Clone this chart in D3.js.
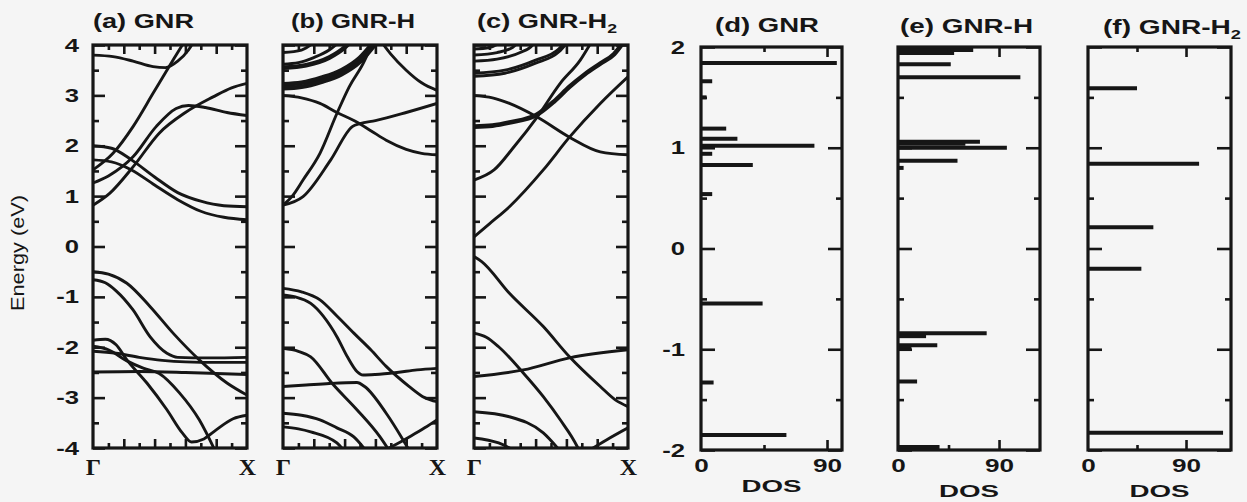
<!DOCTYPE html>
<html><head><meta charset="utf-8">
<script src="https://cdn.jsdelivr.net/npm/d3@7"></script>
<style>body{margin:0;background:#f5f5f5;} svg{display:block;}</style>
</head><body><svg id="c" width="1247" height="502"></svg>
<script>
// ---------------- DATA ----------------
const bandYTicks = [-4,-3,-2,-1,0,1,2,3,4];
const bandYMinor = [-3.5,-2.5,-1.5,-0.5,0.5,1.5,2.5,3.5];
const kMajor = [0.2,0.4,0.6,0.8];
const kMinor = [0.1,0.3,0.5,0.7,0.9];
const kLabels = ["\u0393","X"];
const dosYTicks = [-2,-1,0,1,2];
const dosYMinor = [-1.5,-0.5,0.5,1.5];
const dosXTicks = [0,90];
const dosXMinor = [45];
const dosMax = [100.7, 126.5, 131.3];
const titles = ["(a) GNR","(b) GNR-H","(c) GNR-H","(d) GNR","(e) GNR-H","(f) GNR-H"];
const titleSubs = ["","","2","","","2"];

// band structures: each band = list of [k, E(eV)]
const bandsA = [
 [[0,3.8],[0.13,3.77],[0.26,3.68],[0.39,3.57],[0.47,3.55],[0.55,3.68],[0.62,3.9],[0.66,4.1]],
 [[0,1.52],[0.13,1.85],[0.26,2.38],[0.39,3.04],[0.48,3.5],[0.55,3.85],[0.6,4.1]],
 [[0,1.26],[0.1,1.4],[0.26,1.78],[0.41,2.38],[0.54,2.74],[0.62,2.8],[0.73,2.76],[0.87,2.66],[1,2.6]],
 [[0,0.82],[0.11,1.06],[0.26,1.58],[0.43,2.25],[0.6,2.66],[0.78,2.97],[0.9,3.15],[1,3.24]],
 [[0,2.0],[0.12,1.95],[0.25,1.72],[0.4,1.38],[0.55,1.07],[0.7,0.9],[0.85,0.81],[1,0.79]],
 [[0,1.72],[0.12,1.68],[0.25,1.52],[0.4,1.22],[0.55,0.93],[0.7,0.7],[0.85,0.58],[1,0.53]],
 [[0,-0.5],[0.1,-0.55],[0.22,-0.73],[0.37,-1.19],[0.52,-1.72],[0.69,-2.25],[0.87,-2.71],[1,-2.95]],
 [[0,-0.66],[0.08,-0.72],[0.15,-0.88],[0.26,-1.26],[0.37,-1.79],[0.48,-2.12],[0.55,-2.2],[0.75,-2.21],[1,-2.2]],
 [[0,-1.86],[0.08,-1.84],[0.15,-1.95],[0.22,-2.25],[0.35,-2.71],[0.48,-3.24],[0.58,-3.7],[0.64,-3.88],[0.72,-3.82],[0.8,-3.64],[0.91,-3.42],[1,-3.35]],
 [[0,-1.98],[0.1,-2.05],[0.22,-2.27],[0.33,-2.42],[0.43,-2.52],[0.56,-2.9],[0.69,-3.44],[0.8,-4.1]],
 [[0,-2.08],[0.15,-2.12],[0.3,-2.2],[0.45,-2.26],[0.6,-2.29],[0.8,-2.3],[1,-2.3]],
 [[0,-2.49],[0.3,-2.48],[0.6,-2.5],[0.8,-2.52],[1,-2.54]]
];
const bandsB = [
 [[0,3.85],[0.12,3.9],[0.22,4.1]],
 [[0,3.62],[0.1,3.65],[0.2,3.75],[0.3,3.9],[0.38,4.1]],
 [[0,3.55],[0.15,3.6],[0.3,3.75],[0.4,3.95],[0.45,4.1]],
 [[0,3.22],[0.12,3.25],[0.25,3.35],[0.38,3.5],[0.5,3.75],[0.6,4.1]],
 [[0,3.14],[0.12,3.17],[0.25,3.27],[0.38,3.42],[0.5,3.67],[0.62,4.1]],
 [[0.63,4.1],[0.7,3.82],[0.8,3.5],[0.9,3.25],[1,3.1]],
 [[0,3.0],[0.12,2.95],[0.24,2.84],[0.35,2.66],[0.46,2.5],[0.57,2.3],[0.67,2.11],[0.8,1.93],[0.9,1.85],[1,1.82]],
 [[0,0.82],[0.06,1.0],[0.13,1.32],[0.24,1.85],[0.35,2.64],[0.43,3.17],[0.52,3.63],[0.59,4.1]],
 [[0,0.82],[0.13,0.99],[0.31,1.72],[0.45,2.38],[0.5,2.44],[0.6,2.5],[0.8,2.66],[1,2.84]],
 [[0,-0.83],[0.12,-0.9],[0.24,-1.06],[0.35,-1.38],[0.46,-1.72],[0.57,-2.05],[0.67,-2.38],[0.82,-2.78],[0.92,-3.0],[1,-3.08]],
 [[0,-0.96],[0.08,-1.0],[0.18,-1.13],[0.35,-1.79],[0.42,-2.2],[0.48,-2.48],[0.52,-2.55],[0.6,-2.54],[0.74,-2.5],[0.87,-2.45],[1,-2.42]],
 [[0,-2.02],[0.1,-2.08],[0.18,-2.19],[0.32,-2.72],[0.48,-3.24],[0.63,-3.78],[0.7,-4.1]],
 [[0,-2.78],[0.15,-2.75],[0.3,-2.72],[0.48,-2.7],[0.53,-2.78],[0.67,-3.31],[0.78,-3.84],[0.83,-4.1]],
 [[0,-3.31],[0.12,-3.35],[0.24,-3.44],[0.35,-3.6],[0.46,-3.78],[0.55,-4.1]],
 [[0,-3.58],[0.1,-3.62],[0.18,-3.68],[0.35,-3.9],[0.41,-4.1]],
 [[0.62,-4.1],[0.72,-3.95],[0.82,-3.78],[0.92,-3.6],[1,-3.44]]
];
const bandsC = [
 [[0,3.92],[0.1,3.95],[0.2,4.1]],
 [[0,3.8],[0.15,3.85],[0.25,3.95],[0.3,4.1]],
 [[0,3.68],[0.15,3.72],[0.3,3.85],[0.38,4.0],[0.4,4.1]],
 [[0,3.44],[0.2,3.5],[0.4,3.7],[0.55,3.92],[0.6,4.1]],
 [[0,3.38],[0.2,3.44],[0.4,3.64],[0.55,3.86],[0.62,4.1]],
 [[0,3.0],[0.12,2.95],[0.23,2.84],[0.41,2.57],[0.62,2.17],[0.82,1.88],[1,1.82]],
 [[0,2.38],[0.12,2.4],[0.23,2.46],[0.41,2.62],[0.52,2.88],[0.62,3.17],[0.72,3.42],[0.82,3.63],[0.91,3.82],[0.98,4.1]],
 [[0,1.32],[0.13,1.52],[0.26,1.98],[0.41,2.57],[0.56,3.24],[0.69,3.7],[0.77,4.1]],
 [[0,0.19],[0.1,0.45],[0.23,0.79],[0.45,1.52],[0.62,2.17],[0.82,2.84],[1,3.37]],
 [[0,-0.2],[0.05,-0.3],[0.23,-0.93],[0.45,-1.59],[0.62,-2.19],[0.82,-2.78],[0.92,-3.05],[1,-3.18]],
 [[0,-1.72],[0.08,-1.8],[0.16,-1.99],[0.32,-2.51],[0.45,-2.98],[0.56,-3.44],[0.67,-3.97],[0.69,-4.1]],
 [[0,-2.58],[0.32,-2.45],[0.62,-2.21],[1,-2.05]],
 [[0,-3.28],[0.23,-3.38],[0.45,-3.7],[0.57,-4.1]],
 [[0,-3.8],[0.16,-3.9],[0.29,-4.1]],
 [[0.72,-4.1],[0.86,-3.84],[1,-3.6]]
];
const thickA = [];
const thickB = [2,3,4];
const thickC = [6];

// DOS peaks: energy (eV) and height
const dosE_d = [1.84,1.66,1.5,1.19,1.09,1.02,0.94,0.83,0.54,-0.545,-1.33,-1.85];
const dosV_d = [97,8,4,18,26,81,8,37,8,44,9,61];
const dosE_e = [1.97,1.94,1.83,1.70,1.06,1.04,1.0,0.87,0.8,-0.84,-0.87,-0.96,-0.98,-1.32,-1.97];
const dosV_e = [67,50,47,109,73,60,97,53,5,79,25,35,12,17,37];
const dosE_f = [1.59,0.84,0.21,-0.2,-1.83];
const dosV_f = [45,102,60,49,124];

// ---------------- DRAW ----------------
const svg = d3.select("#c");
const ink = "#161616";
const FONT = "'Liberation Sans', Arial, sans-serif";
svg.append("rect").attr("width",1247).attr("height",502).attr("fill","#f5f5f5");
const defs = svg.append("defs");

function stretch(sel, f){ sel.each(function(){ const w=this.getComputedTextLength(); this.setAttribute("textLength", w*f); this.setAttribute("lengthAdjust","spacingAndGlyphs"); }); }

function ticksY(g, y, x0, x1, major, minor, lenMaj, lenMin){
  g.append("g").attr("transform",`translate(${x0},0)`).call(d3.axisLeft(y).tickValues(major).tickSize(-lenMaj).tickFormat("")).call(s=>s.select(".domain").remove());
  g.append("g").attr("transform",`translate(${x0},0)`).call(d3.axisLeft(y).tickValues(minor).tickSize(-lenMin).tickFormat("")).call(s=>s.select(".domain").remove());
  g.append("g").attr("transform",`translate(${x1},0)`).call(d3.axisRight(y).tickValues(major).tickSize(-lenMaj).tickFormat("")).call(s=>s.select(".domain").remove());
  g.append("g").attr("transform",`translate(${x1},0)`).call(d3.axisRight(y).tickValues(minor).tickSize(-lenMin).tickFormat("")).call(s=>s.select(".domain").remove());
}
function ticksX(g, x, y0, y1, major, minor, lenMaj, lenMin){
  g.append("g").attr("transform",`translate(0,${y1})`).call(d3.axisBottom(x).tickValues(major).tickSize(-lenMaj).tickFormat("")).call(s=>s.select(".domain").remove());
  g.append("g").attr("transform",`translate(0,${y1})`).call(d3.axisBottom(x).tickValues(minor).tickSize(-lenMin).tickFormat("")).call(s=>s.select(".domain").remove());
  g.append("g").attr("transform",`translate(0,${y0})`).call(d3.axisTop(x).tickValues(major).tickSize(-lenMaj).tickFormat("")).call(s=>s.select(".domain").remove());
  g.append("g").attr("transform",`translate(0,${y0})`).call(d3.axisTop(x).tickValues(minor).tickSize(-lenMin).tickFormat("")).call(s=>s.select(".domain").remove());
}
function title(txt, sub, x, y, w){
  const t = svg.append("text").attr("x",x).attr("y",y).attr("font-family",FONT).attr("font-weight","bold").attr("font-size",20).attr("fill",ink).text(txt);
  if(sub){ t.append("tspan").attr("font-size",13).attr("dy",5).text(sub); }
  t.attr("textLength",w).attr("lengthAdjust","spacingAndGlyphs");
}

const yB = d3.scaleLinear().domain([-4,4]).range([448,45]);
const bandX = [[93,247],[283,437],[474,628]];
const bandSets = [bandsA,bandsB,bandsC];
const thickSets = [thickA,thickB,thickC];
const titlePos = [[93,28,101],[291,28,124],[477,28,140]];

bandSets.forEach((bands,p)=>{
  const [x0,x1] = bandX[p];
  const x = d3.scaleLinear().domain([0,1]).range([x0,x1]);
  const g = svg.append("g");
  defs.append("clipPath").attr("id","cl"+p).append("rect").attr("x",x0).attr("y",yB(4)).attr("width",x1-x0).attr("height",yB(-4)-yB(4));
  const line = d3.line().x(d=>x(d[0])).y(d=>yB(d[1])).curve(d3.curveMonotoneX);
  g.append("g").attr("clip-path",`url(#cl${p})`).selectAll("path").data(bands).join("path")
    .attr("d",line).attr("fill","none").attr("stroke",ink)
    .attr("stroke-width",(d,i)=>thickSets[p].includes(i)?4.6:2.9).attr("stroke-linejoin","round");
  const tg = g.append("g");
  ticksY(tg, yB, x0, x1, bandYTicks, bandYMinor, 12, 6);
  ticksX(tg, x, yB(4), yB(-4), kMajor, kMinor, 9, 5);
  tg.selectAll("line").attr("stroke",ink).attr("stroke-width",2.6);
  g.append("rect").attr("x",x0).attr("y",yB(4)).attr("width",x1-x0).attr("height",yB(-4)-yB(4)).attr("fill","none").attr("stroke",ink).attr("stroke-width",3.2);
  g.append("g").attr("transform",`translate(0,${yB(-4)})`).call(d3.axisBottom(x).tickValues([0,1]).tickSize(0).tickPadding(10).tickFormat((d,i)=>kLabels[i]))
    .call(s=>s.select(".domain").remove())
    .selectAll("text").attr("font-family","'Liberation Serif', 'Times New Roman', serif").attr("font-weight","bold").attr("font-size",24).attr("fill",ink);
  title(titles[p], titleSubs[p], titlePos[p][0], titlePos[p][1], titlePos[p][2]);
});
const ya = svg.append("g").attr("transform",`translate(${bandX[0][0]},0)`).call(d3.axisLeft(yB).tickValues(bandYTicks).tickSize(0).tickPadding(14).tickFormat(d=>String(d)));
ya.select(".domain").remove();
ya.selectAll("text").attr("font-family",FONT).attr("font-weight","bold").attr("font-size",19).attr("fill",ink).call(stretch,1.35);
svg.append("text").attr("transform","translate(24,253) rotate(-90)").attr("text-anchor","middle")
  .attr("font-family",FONT).attr("font-size",19).attr("fill",ink).attr("textLength",116).attr("lengthAdjust","spacingAndGlyphs").text("Energy (eV)");

// DOS panels
const yD = d3.scaleLinear().domain([-2,2]).range([450,47]);
const dosX = [[701,842],[898,1040],[1088,1231]];
const dosSets = [[dosE_d,dosV_d],[dosE_e,dosV_e],[dosE_f,dosV_f]];
const dosTitlePos = [[715,32,104],[900,33,133],[1103,34,138]];
const dosLabelY = [[473,492],[473,497],[473,497]];
dosSets.forEach(([E,V],p)=>{
  const [x0,x1] = dosX[p];
  const x = d3.scaleLinear().domain([0,dosMax[p]]).range([x0,x1]);
  const g = svg.append("g");
  g.append("g").selectAll("line").data(E).join("line")
    .attr("x1",x(0)).attr("x2",(d,i)=>x(V[i])).attr("y1",d=>yD(d)).attr("y2",d=>yD(d))
    .attr("stroke",ink).attr("stroke-width",4);
  const tg = g.append("g");
  ticksY(tg, yD, x0, x1, dosYTicks, dosYMinor, 14, 6);
  ticksX(tg, x, yD(2), yD(-2), [90], dosXMinor, 10, 5);
  tg.selectAll("line").attr("stroke",ink).attr("stroke-width",2.6);
  g.append("rect").attr("x",x0).attr("y",yD(2)).attr("width",x1-x0).attr("height",yD(-2)-yD(2)).attr("fill","none").attr("stroke",ink).attr("stroke-width",3.2);
  const xl = g.append("g").attr("transform",`translate(0,${yD(-2)})`).call(d3.axisBottom(x).tickValues(dosXTicks).tickSize(0).tickPadding(dosLabelY[p][0]-yD(-2)-14).tickFormat(d=>String(d)));
  xl.select(".domain").remove();
  xl.selectAll("text").attr("font-family",FONT).attr("font-weight","bold").attr("font-size",18).attr("fill",ink).call(stretch,1.45);
  svg.append("text").attr("x",(x0+x1)/2).attr("y",dosLabelY[p][1]).attr("text-anchor","middle").attr("font-family",FONT).attr("font-weight","bold").attr("font-size",17).attr("fill",ink).attr("textLength",60).attr("lengthAdjust","spacingAndGlyphs").text("DOS");
  title(titles[p+3], titleSubs[p+3], dosTitlePos[p][0], dosTitlePos[p][1], dosTitlePos[p][2]);
});
const yd = svg.append("g").attr("transform",`translate(${dosX[0][0]},0)`).call(d3.axisLeft(yD).tickValues(dosYTicks).tickSize(0).tickPadding(16).tickFormat(d=>String(d)));
yd.select(".domain").remove();
yd.selectAll("text").attr("font-family",FONT).attr("font-weight","bold").attr("font-size",19).attr("fill",ink).call(stretch,1.35);
</script></body></html>
